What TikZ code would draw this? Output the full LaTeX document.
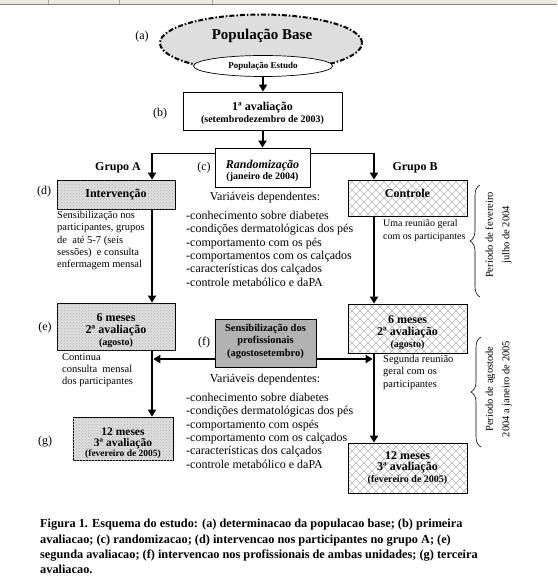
\documentclass[tikz,border=0pt]{standalone}
\usepackage{fontspec}
\setmainfont{Liberation Serif}
\usetikzlibrary{arrows.meta,shapes.geometric,patterns,decorations.pathreplacing,calc}
\newcommand{\padtop}[2]{\raisebox{0pt}[#1][0pt]{#2}}
\begin{document}
\begin{tikzpicture}[x=1pt,y=-1pt,
  box/.style={draw, line width=0.8pt, inner sep=0pt, align=center},
  dotbox/.style={box, fill=black!13, postaction={pattern=crosshatch dots, pattern color=black!30}},
  diabox/.style={box, path picture={
     \foreach \k in {-64,-56,...,184}{
       \draw[black!28, line width=0.5pt] ($(path picture bounding box.south west)+(\k pt,-2pt)$) -- +(64pt,64pt);
       \draw[black!28, line width=0.5pt] ($(path picture bounding box.south west)+(\k pt,-2pt)$) -- +(-64pt,64pt);
     }}},
  lbl/.style={font=\fontsize{12}{14}\selectfont, inner sep=0pt},
  grp/.style={font=\fontsize{12}{14}\selectfont\bfseries, inner sep=0pt},
  note/.style={font=\fontsize{10.5}{12.3}\selectfont, align=left, inner sep=0pt, anchor=north west},
  varlist/.style={font=\fontsize{12}{13.3}\selectfont, align=left, inner sep=0pt, anchor=north west},
  vtitle/.style={font=\fontsize{12}{14}\selectfont, inner sep=0pt},
  arr/.style={-{Triangle[length=7pt,width=8pt]}, line width=2.6pt},
  marr/.style={-{Triangle[length=7pt,width=8pt]}, line width=2pt},
  thinline/.style={line width=0.8pt},
  period/.style={font=\fontsize{10.5}{16.5}\selectfont, align=center, rotate=90, inner sep=0pt},
  brc/.style={decorate, decoration={brace, amplitude=10pt}, line width=0.6pt}
]
\useasboundingbox (0,0) rectangle (557,588);
\fill[white] (0,0) rectangle (557,588);
% window strip
\fill[fill={rgb,255:red,236;green,233;blue,216}] (0,0) rectangle (557,4.5);
\draw[black!50, line width=0.8pt] (0,4.8) -- (557,4.8);
\foreach \sx in {48,119,212} \draw[black!35, line width=0.6pt] (\sx,0) -- (\sx,4.5);

% column coordinates
\coordinate (colA) at (152,0);
\coordinate (colB) at (374,0);
\coordinate (split) at (262,153);
\coordinate (fy) at (265,359);

% (a) population
\node[ellipse, draw, line width=2pt, dash pattern=on 5pt off 2pt on 1.5pt off 2pt,
      fill=black!13, minimum width=202pt, minimum height=57pt, inner sep=0pt] (base) at (261,43) {};
\node[font=\fontsize{15}{17}\selectfont\bfseries, inner sep=0pt] (basetxt) at (262,36) {População Base};
\node[ellipse, draw, line width=0.7pt, fill=white, minimum width=139pt, minimum height=21pt,
      inner sep=0pt, font=\fontsize{9}{10}\selectfont\bfseries] (estudo) at (263,66) {População Estudo};
\node[lbl] (la) at (142,37) {(a)};

% (b)
\node[box, minimum width=159pt, minimum height=38pt, font=\fontsize{10}{11.5}\selectfont\bfseries] (b) at (262.5,111)
  {{\fontsize{12}{14}\selectfont\padtop{13pt}{1ª avaliação}}\\(setembrodezembro de 2003)};
\node[lbl] (lb) at (160,114) {(b)};

% (c)
\node[box, minimum width=95pt, minimum height=39pt, font=\fontsize{10}{11}\selectfont\bfseries] (c) at (262.5,167.5)
  {{\fontsize{12}{14}\selectfont\itshape\padtop{16pt}{Randomização}}\\(janeiro de 2004)};
\node[lbl] (lc) at (204,168) {(c)};
\node[grp] (ga) at (118,168) {Grupo A};
\node[grp] (gb) at (415,168) {Grupo B};

% (d) Intervencao / Controle
\node[dotbox, minimum width=118pt, minimum height=29pt, font=\fontsize{12}{14}\selectfont\bfseries] (d) at (116,194.5) {Intervenção};
\node[lbl] (ld) at (44,192) {(d)};
\node[diabox, minimum width=119pt, minimum height=36pt, text depth=10pt, font=\fontsize{12}{14}\selectfont\bfseries] (ctrl) at (407.5,198) {Controle};

\node[note] (nd) at (57,211) {Sensibilização nos\\participantes, grupos\\de\ \ até 5-7 (seis\\sessões)\ \ e consulta\\enfermagem mensal};
\node[note, font=\fontsize{10}{13}\selectfont] (nctrl) at (383,219) {Uma reunião geral\\com os participantes};

\node[vtitle] (v1) at (265,198) {Variáveis dependentes:};
\node[varlist] (vl1) at (186,211) {-conhecimento sobre diabetes\\-condições dermatológicas dos pés\\-comportamento com os pés\\-comportamentos com os calçados\\-características dos calçados\\-controle metabólico e daPA};

% brace 1
\draw[brc] (480,297) -- (480,185);
\node[period] (p1) at (498.5,235) {Período de fevereiro\\julho de 2004};

% (e) 6 meses
\node[dotbox, minimum width=118pt, minimum height=47pt, font=\fontsize{10}{12}\selectfont\bfseries] (e) at (116,326.5)
  {{\fontsize{12}{13}\selectfont\padtop{17pt}{6 meses}}\\{\fontsize{12}{13}\selectfont 2ª avaliação}\\(agosto)};
\node[lbl] (le) at (45,328) {(e)};
\node[diabox, minimum width=119pt, minimum height=49pt, font=\fontsize{10}{12}\selectfont\bfseries] (e2) at (407.5,328.5)
  {{\fontsize{12}{13}\selectfont\padtop{16pt}{6 meses}}\\{\fontsize{12}{13}\selectfont 2ª avaliação}\\(agosto)};

\node[note] (ne) at (62,353) {Continua\\consulta\ \ mensal\\dos participantes};
\node[note] (ne2) at (383,355) {Segunda reunião\\geral com os\\participantes};

% (f)
\node[box, fill=black!30, minimum width=101pt, minimum height=48pt, text depth=6pt, font=\fontsize{10.5}{12.5}\selectfont\bfseries] (f) at (265.5,343)
  {Sensibilização dos\\profissionais\\(agostosetembro)};
\node[lbl] (lf) at (204,343) {(f)};

\node[vtitle] (v2) at (265,380) {Variáveis dependentes:};
\node[varlist] (vl2) at (186,393) {-conhecimento sobre diabetes\\-condições dermatológicas dos pés\\-comportamento com ospés\\-comportamento com os calçados\\-características dos calçados\\-controle metabólico e daPA};

% brace 2
\draw[brc] (481,447) -- (481,337);
\node[period] (p2) at (498.5,389) {Periodo de agostode\\2004 a janeiro de 2005};

% (g)
\node[dotbox, minimum width=100pt, minimum height=43pt, font=\fontsize{9.5}{10.5}\selectfont\bfseries] (g) at (123,438.5)
  {{\fontsize{11.5}{10.5}\selectfont\padtop{18pt}{12 meses}}\\{\fontsize{11.5}{10.5}\selectfont 3ª avaliação}\\(fevereiro de 2005)};
\node[lbl] (lg) at (45,442) {(g)};
\node[diabox, minimum width=119pt, minimum height=50pt, font=\fontsize{10}{11.5}\selectfont\bfseries] (g2) at (407.5,468)
  {{\fontsize{12}{11.5}\selectfont 12 meses}\\{\fontsize{12}{11.5}\selectfont 3ª avaliação}\\(fevereiro de 2005)};

% connectors
\draw[marr] (estudo.south) -- (estudo.south |- b.north);
\draw[marr] (b.south) -- (c.north);
\draw[thinline] (c.west |- split) -- (split -| colA);
\draw[thinline] (c.east |- split) -- (split -| colB);
\draw[marr] ([yshift=0.4pt]split -| colA) -- (d.north -| colA);
\draw[marr] ([yshift=0.4pt]split -| colB) -- (ctrl.north -| colB);
\draw[arr] (d.south -| colA) -- (e.north -| colA);
\draw[arr] (e.south -| colA) -- (g.north -| colA);
\draw[arr] (ctrl.south -| colB) -- (e2.north -| colB);
\draw[arr] (e2.south -| colB) -- (g2.north -| colB);
\draw[marr, shorten >=1.3pt] (f.west |- fy) -- (fy -| colA);
\draw[marr, shorten >=1.3pt] (f.east |- fy) -- (fy -| colB);

% caption
\node[font=\fontsize{12.3}{15.3}\selectfont\bfseries, align=left, inner sep=0pt, anchor=north west] (cap) at (40,519)
 {Figura 1. Esquema do estudo: (a) determinacao da populacao base; (b) primeira\\
  avaliacao; (c) randomizacao; (d) intervencao nos participantes no grupo A; (e)\\
  segunda avaliacao; (f) intervencao nos profissionais de ambas unidades; (g) terceira\\
  avaliacao.};
\end{tikzpicture}
\end{document}
